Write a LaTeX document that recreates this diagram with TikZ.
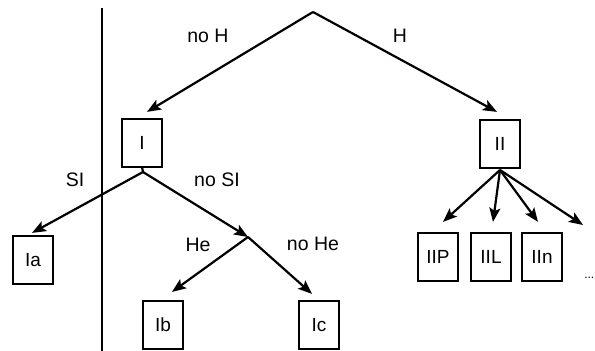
\documentclass[tikz,border=0pt]{standalone}
\usepackage{fontspec}
\setmainfont{Liberation Sans}
\usetikzlibrary{arrows.meta}
\begin{document}
\begin{tikzpicture}[x=1pt,y=1pt,
  box/.style={draw,line width=2.2pt,minimum width=40pt,minimum height=48pt,inner sep=0pt,font=\fontsize{19}{19}\selectfont},
  lbl/.style={font=\fontsize{19.5}{19.5}\selectfont,inner sep=0pt},
  arr/.style={line width=2.2pt,-{Stealth[length=14pt,width=11pt,inset=3pt]}},
  ln/.style={line width=2.2pt}]
\useasboundingbox (0,0) rectangle (595,351);
% vertical separator
\coordinate (vtop) at (102,343);
\coordinate (vbot) at (102,0);
\draw[ln] (vtop) -- (vbot);
% nodes
\coordinate (apex) at (313,339);
\node[box] (I) at (142,208) {I};
\node[box] (II) at (500,207) {II};
\node[box] (Ia) at (33,91) {Ia};
\node[box] (Ib) at (163,26) {Ib};
\node[box] (Ic) at (319,26) {Ic};
\node[box] (IIP) at (438,94) {IIP};
\node[box] (IIL) at (491,94) {IIL};
\node[box] (IIn) at (542,94) {IIn};
\coordinate (Iout) at (143,179);
\coordinate (J) at (248,114);
\coordinate (IIout) at (500,181);
\coordinate (more) at (583,126);
% connectors
\draw[arr] (apex) -- ([xshift=5pt,yshift=6pt]I.north);
\draw[arr] (apex) -- ([xshift=-3pt,yshift=7pt]II.north);
\draw[ln] ([yshift=1pt]I.south) -- (Iout);
\draw[arr] (Iout) -- ([xshift=-1pt,yshift=2pt]Ia.north);
\draw[arr] (Iout) -- (J);
\draw[arr] (J) -- ([xshift=9pt,yshift=8pt]Ib.north);
\draw[arr] (J) -- ([xshift=-7pt,yshift=6pt]Ic.north);
\draw[arr] (IIout) -- ([xshift=5pt,yshift=10pt]IIP.north);
\draw[arr] (IIout) -- ([xshift=2pt,yshift=10pt]IIL.north);
\draw[arr] (IIout) -- ([xshift=-4pt,yshift=10pt]IIn.north);
\draw[arr] (IIout) -- (more);
% labels
\node[lbl] (lnoH) at (208,315.5) {no H};
\node[lbl] (lH) at (400,315.5) {H};
\node[lbl] (lSI) at (75,171) {SI};
\node[lbl] (lnoSI) at (217,171) {no SI};
\node[lbl] (lHe) at (198,106) {He};
\node[lbl] (lnoHe) at (313,107) {no He};
\node[lbl,font=\fontsize{12}{12}\selectfont,anchor=east] (dots) at (594.5,73) {...};
\end{tikzpicture}
\end{document}
